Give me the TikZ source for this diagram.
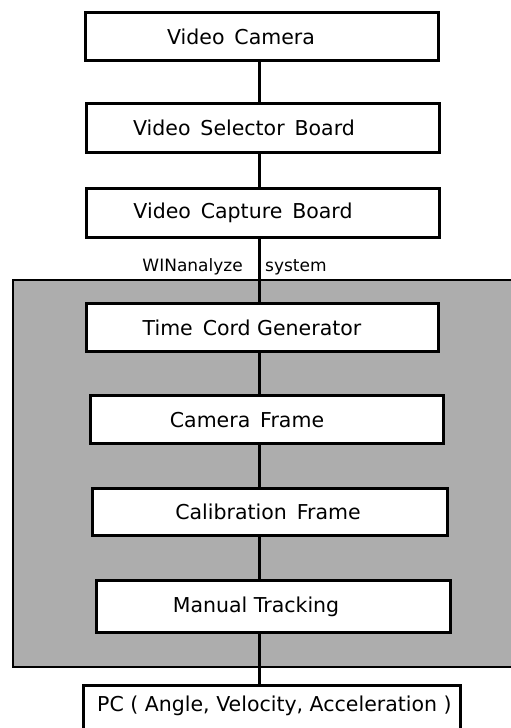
\documentclass[tikz,border=0pt]{standalone}
\usepackage{fontspec}
\setmainfont{DejaVu Sans}
\begin{document}
\begin{tikzpicture}[x=1pt,y=-1pt,
  box/.style={draw=black,line width=3pt,fill=white,rectangle,inner sep=0pt},
  txt/.style={inner sep=0pt,font=\fontsize{20.5}{24}\selectfont},
  small/.style={inner sep=0pt,font=\fontsize{17}{20}\selectfont},
  conn/.style={draw=black,line width=2.4pt}]
\useasboundingbox (0,0) rectangle (511,728);
% shaded WINanalyze region
\path[fill=black!32,draw=black,line width=1.8pt] (13,280) rectangle (530,667);
% boxes
\node[box,minimum width=353pt,minimum height=48pt] (vc) at (261.5,36) {};
\node[box,minimum width=353pt,minimum height=49pt] (vsb) at (262.5,127.5) {};
\node[box,minimum width=353pt,minimum height=49pt] (vcb) at (262.5,212.5) {};
\node[box,minimum width=352pt,minimum height=48pt] (tcg) at (262,327) {};
\node[box,minimum width=353pt,minimum height=48pt] (cf) at (266.5,419) {};
\node[box,minimum width=355pt,minimum height=47pt] (cal) at (269.5,511.5) {};
\node[box,minimum width=354pt,minimum height=52pt] (mt) at (273,606) {};
\node[box,minimum width=377pt,minimum height=54pt] (pc) at (271.5,712) {};
% spine
\coordinate (spine) at (259.5,0);
\foreach \a/\b in {vc/vsb,vsb/vcb,vcb/tcg,tcg/cf,cf/cal,cal/mt,mt/pc}
  \draw[conn] (\a.south -| spine) -- (\b.north -| spine);
% texts
\node[txt] (vct) at (241,37) {Video\, Camera};
\node[txt] (vsbt) at (244,128) {Video\, Selector\, Board};
\node[txt] (vcbt) at (243,213) {Video\, Capture\, Board};
\node[txt] (tcgt) at (252,328) {Time\, Cord Generator};
\node[txt] (cft) at (247,420) {Camera\, Frame};
\node[txt] (calt) at (268,512) {Calibration\, Frame};
\node[txt] (mtt) at (256,607) {Manual Tracking};
\node[txt,anchor=west] (pct) at (97,706) {PC ( Angle, Velocity, Acceleration )};
\node[small,anchor=base east] (win) at (243,271) {WINanalyze};
\node[small,anchor=base west] (sys) at (265,271) {system};
\end{tikzpicture}
\end{document}
